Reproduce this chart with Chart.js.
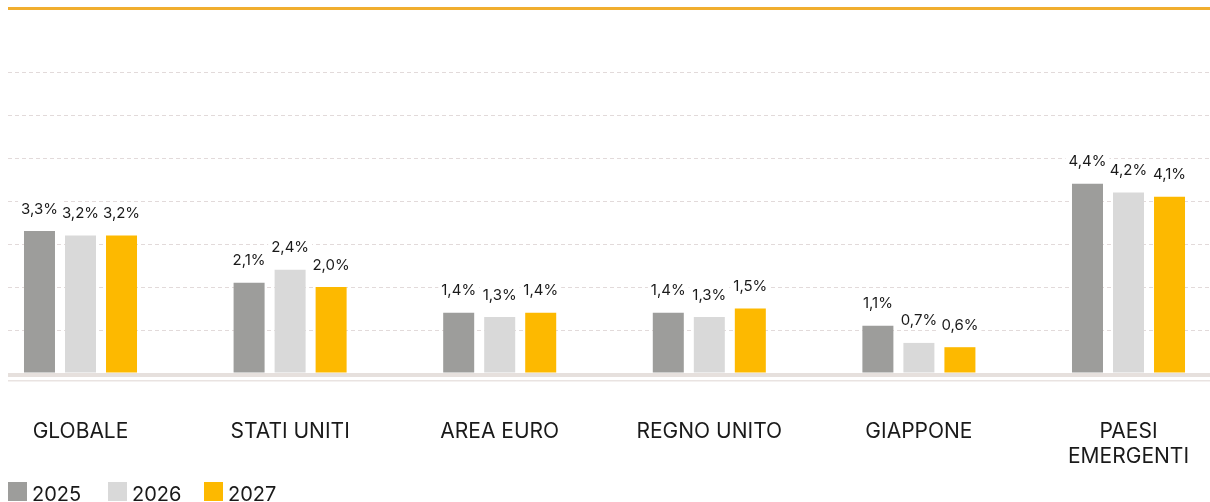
<!DOCTYPE html>
<html>
<head>
<meta charset="utf-8">
<script src="https://cdn.jsdelivr.net/npm/chart.js@4.4.1/dist/chart.umd.min.js"></script>
<style>
  html, body { margin: 0; padding: 0; background: #fff; overflow: hidden; }
  #wrap { position: relative; width: 1210px; height: 502px; }
  #topRule { position: absolute; left: 8px; top: 7px; width: 1202px; height: 3px; background: #f1ae2f; }
  #legend { position: absolute; left: 8px; top: 482px; font-family: Inter, sans-serif; font-size: 20px; line-height: 20px; color: #1a1a1a; }
  .item { position: absolute; top: 0; white-space: nowrap; }
  .box { position: absolute; top: 0; left: 0; width: 19px; height: 19px; }
  .txt { position: absolute; top: 2px; left: 24px; }
</style>
</head>
<body>
<div id="wrap">
  <canvas id="chart" width="1210" height="502"></canvas>
  <div id="topRule"></div>
  <div id="legend"></div>
</div>
<script>
// Categories and series
const categories = ["GLOBALE", "STATI UNITI", "AREA EURO", "REGNO UNITO", "GIAPPONE", ["PAESI", "EMERGENTI"]];
const years = ["2025", "2026", "2027"];
const values2025 = [3.3, 2.1, 1.4, 1.4, 1.1, 4.4];
const values2026 = [3.2, 2.4, 1.3, 1.3, 0.7, 4.2];
const values2027 = [3.2, 2.0, 1.4, 1.5, 0.6, 4.1];
const colors = ["#9d9d9b", "#d9d9d9", "#fdb900"];

const fontFamily = "Inter, sans-serif";
const textColor = "#1a1a1a";

// baseline band under the bars
const baselinePlugin = {
  id: "baseline",
  beforeDatasetsDraw(chart) {
    const ctx = chart.ctx;
    const area = chart.chartArea;
    const y0 = chart.scales.y.getPixelForValue(0);
    ctx.save();
    ctx.fillStyle = "#e6e0dd";
    ctx.fillRect(area.left, y0, area.right - area.left, 4);
    ctx.fillStyle = "#e9e3e1";
    ctx.fillRect(area.left, y0 + 7, area.right - area.left, 1.5);
    ctx.restore();
  }
};

// value labels on a white patch above each bar
const valueLabels = {
  id: "valueLabels",
  afterDatasetsDraw(chart) {
    const ctx = chart.ctx;
    ctx.save();
    ctx.font = "15px " + fontFamily;
    ctx.textAlign = "center";
    ctx.textBaseline = "middle";
    chart.data.datasets.forEach((ds, di) => {
      chart.getDatasetMeta(di).data.forEach((bar, i) => {
        const label = ds.data[i].toFixed(1).replace(".", ",") + "%";
        const y = bar.y - 22;
        const w = ctx.measureText(label).width;
        ctx.fillStyle = "#fff";
        ctx.fillRect(bar.x - w / 2 - 3, y - 9, w + 6, 18);
        ctx.fillStyle = textColor;
        ctx.fillText(label, bar.x, y);
      });
    });
    ctx.restore();
  }
};

const seriesValues = [values2025, values2026, values2027];

const chart = new Chart(document.getElementById("chart"), {
  type: "bar",
  data: {
    labels: categories,
    datasets: years.map((yr, i) => ({
      label: yr,
      data: seriesValues[i],
      backgroundColor: colors[i],
      borderWidth: 0,
      categoryPercentage: 0.587,
      barPercentage: 0.756
    }))
  },
  options: {
    responsive: false,
    animation: false,
    layout: { padding: { left: 8, top: 72, right: 0, bottom: 0 } },
    plugins: { legend: { display: false }, tooltip: { enabled: false } },
    scales: {
      x: {
        grid: { display: false, drawTicks: false },
        border: { display: false },
        ticks: {
          color: textColor,
          font: { family: fontFamily, size: 21, lineHeight: 1.19 },
          padding: 46.5,
          maxRotation: 0,
          minRotation: 0,
          autoSkip: false
        },
        // groups sit a little wider apart than the plot width would give
        afterBuildTicks(scale) {
          scale._startValue = -0.3459;
          scale._valueRange = 5.7347;
        },
        afterFit(scale) {
          scale.height = 129;
          scale.paddingLeft = 0;
          scale.paddingRight = 0;
        }
      },
      y: {
        min: 0,
        max: 7,
        ticks: { display: false, stepSize: 1 },
        grid: {
          drawTicks: false,
          color: (c) => (c.tick && c.tick.value === 0 ? "rgba(0,0,0,0)" : "#e2dada"),
          lineWidth: 1
        },
        border: { display: false, dash: [4, 3] },
        afterFit(scale) {
          scale.width = 0;
          scale.paddingTop = 0;
          scale.paddingBottom = 0;
        }
      }
    }
  },
  plugins: [baselinePlugin, valueLabels]
});

// legend built from the datasets
const legend = document.getElementById("legend");
const legendX = [0, 100, 196];
chart.data.datasets.forEach((ds, i) => {
  const item = document.createElement("div");
  item.className = "item";
  item.style.left = legendX[i] + "px";
  item.innerHTML = '<span class="box" style="background:' + ds.backgroundColor + '"></span><span class="txt">' + ds.label + "</span>";
  legend.appendChild(item);
});
</script>
</body>
</html>
